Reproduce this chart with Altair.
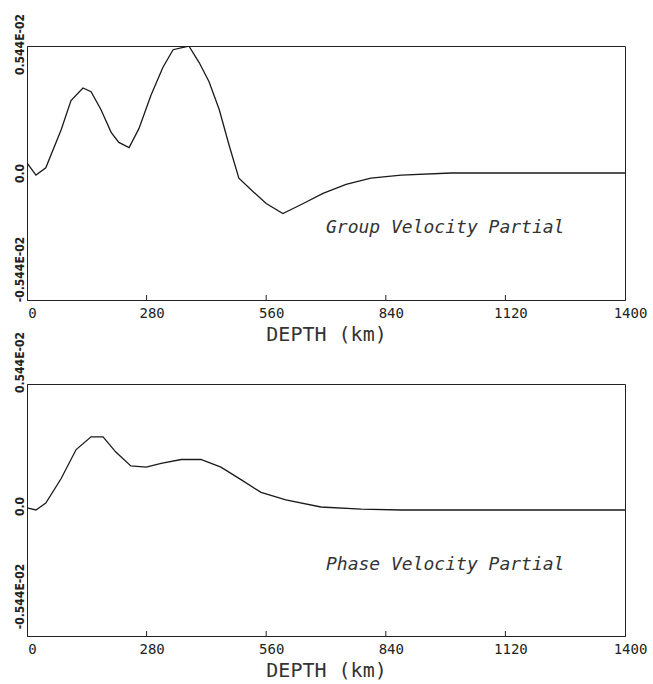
import altair as alt
import pandas as pd

# Values in units of 1E-02
group_depth = [0, 21, 44, 80, 103, 131, 150, 173, 197, 215, 239, 262, 290, 318, 342, 379,
               403, 426, 450, 473, 496, 524, 560, 599, 641, 693, 747, 805, 876, 993, 1400]
group_val = [0.043, -0.009, 0.022, 0.185, 0.310, 0.364, 0.348, 0.272, 0.174, 0.131, 0.109,
             0.190, 0.332, 0.452, 0.528, 0.544, 0.473, 0.392, 0.272, 0.120, -0.022, -0.071,
             -0.131, -0.174, -0.136, -0.087, -0.049, -0.022, -0.009, 0.0, 0.0]

phase_depth = [0, 21, 44, 80, 115, 150, 178, 208, 243, 279, 314, 361, 407, 454, 501, 548,
               606, 688, 782, 876, 1400]
phase_val = [0.009, 0.0, 0.030, 0.136, 0.261, 0.316, 0.316, 0.250, 0.190, 0.185, 0.201,
             0.218, 0.218, 0.185, 0.131, 0.076, 0.044, 0.013, 0.004, 0.0, 0.0]

x_ticks = [0, 280, 560, 840, 1120, 1400]
y_ticks = [-0.544, 0.0, 0.544]
y_tick_labels = ["-0.544E-02", "0.0", "0.544E-02"]
panel_labels = ["Group Velocity Partial", "Phase Velocity Partial"]
label_pos = [700, -0.236]

MONO = "DejaVu Sans Mono"


def panel(depth, val, label, height, offs):
    df = pd.DataFrame({"depth": depth, "val": val})
    lab = pd.DataFrame({"depth": [label_pos[0]], "val": [label_pos[1]], "t": [label]})
    tk = pd.DataFrame({"depth": x_ticks[1:-1]})
    xs = alt.X("depth:Q",
               scale=alt.Scale(domain=[0, 1400], nice=False, zero=False),
               axis=alt.Axis(values=x_ticks, format="d", title="DEPTH  (km)", grid=False,
                             tickSize=0, labelPadding=6, labelOffset=5,
                             labelFont=MONO, labelFontSize=14, labelColor="#222",
                             titleFont=MONO, titleFontSize=20, titleFontWeight="normal",
                             titleColor="#333", titlePadding=4,
                             domainColor="#222", labelFlush=False))
    ys = alt.Y("val:Q",
               scale=alt.Scale(domain=[-0.544, 0.544], nice=False, zero=False),
               axis=alt.Axis(values=y_ticks, title=None, grid=False, tickSize=0,
                             labelAngle=270, labelAlign="center", labelBaseline="bottom",
                             labelPadding=1,
                             labelExpr=("datum.value > 0 ? '%s' : (datum.value < 0 ? '%s' : '%s')"
                                        % (y_tick_labels[2], y_tick_labels[0], y_tick_labels[1])),
                             labelOffset={"condition": [
                                 {"test": "datum.value > 0", "value": offs[0]},
                                 {"test": "datum.value < 0", "value": offs[2]}],
                                 "value": offs[1]},
                             labelFont="DejaVu Sans Condensed", labelFontSize=12,
                             labelFontWeight="bold", labelColor="#222",
                             labelFlush=False, labelOverlap=False,
                             domainColor="#222"))
    line = alt.Chart(df).mark_line(color="#1a1a1a", strokeWidth=1.3, clip=True).encode(
        x=xs, y=ys, order="depth:Q")
    txt = alt.Chart(lab).mark_text(align="left", baseline="middle", font=MONO,
                                   fontStyle="italic", fontSize=18, color="#333").encode(
        x="depth:Q", y="val:Q", text="t:N")
    ticks = alt.Chart(tk).mark_rule(color="#222", strokeWidth=1).encode(
        x="depth:Q", y=alt.value(height), y2=alt.value(height - 5))
    return alt.layer(line, txt, ticks).properties(width=598, height=height)


top = panel(group_depth, group_val, panel_labels[0], 254, (-2, 0, -31))
bot = panel(phase_depth, phase_val, panel_labels[1], 252, (-22, -4, -40))

chart = alt.vconcat(top, bot, spacing=84, bounds="flush").properties(
    padding={"left": 12, "top": 12, "right": 0, "bottom": 0},
    background="white",
).configure_view(stroke="#222", strokeWidth=1)

chart.save("out.html", embed_options={"renderer": "svg", "actions": False})
